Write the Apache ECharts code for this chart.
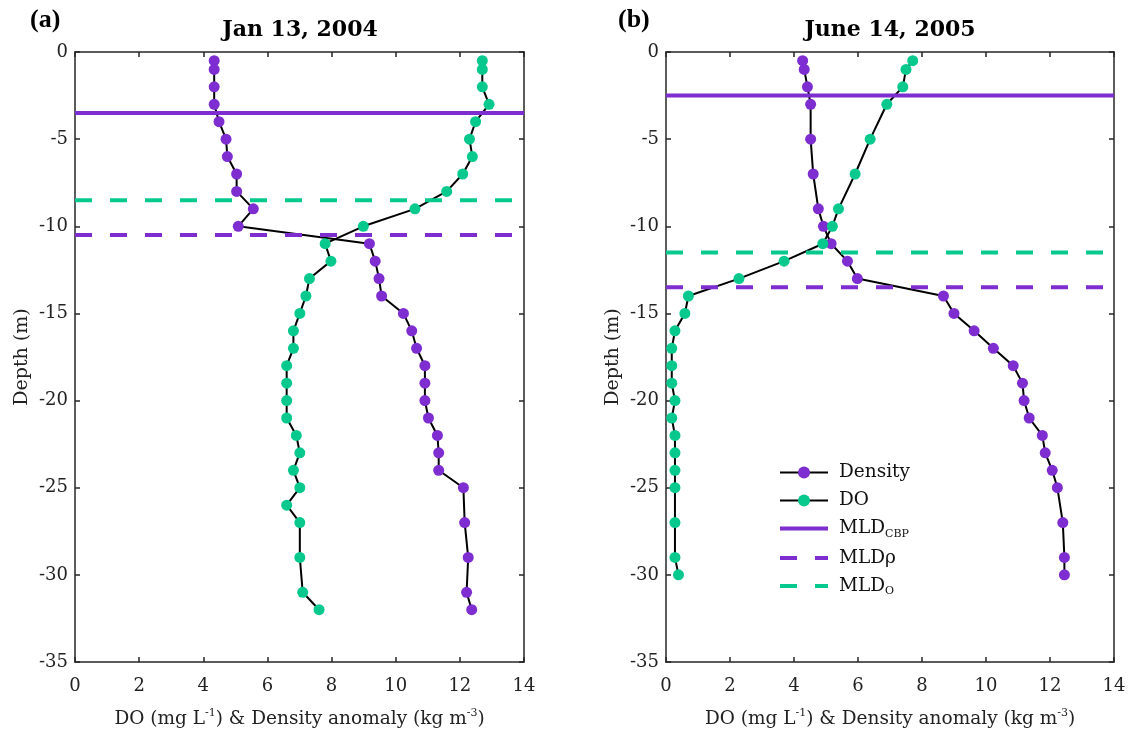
<!DOCTYPE html>
<html>
<head>
<meta charset="utf-8">
<script src="https://cdn.jsdelivr.net/npm/echarts@6/dist/echarts.min.js"></script>
<style>
  html, body { margin: 0; padding: 0; background: #fff; }
  #container { width: 1137px; height: 737px; }
</style>
</head>
<body>
<div id="container"></div>
<script>
// panel (a) Jan 13, 2004
var densDepthA = [-0.5, -1, -2, -3, -4, -5, -6, -7, -8, -9, -10, -11, -12, -13, -14, -15, -16, -17, -18, -19, -20, -21, -22, -23, -24, -25, -27, -29, -31, -32]
var densA = [4.34, 4.34, 4.34, 4.34, 4.49, 4.71, 4.75, 5.04, 5.04, 5.56, 5.09, 9.18, 9.36, 9.48, 9.56, 10.24, 10.5, 10.65, 10.91, 10.91, 10.91, 11.02, 11.3, 11.34, 11.34, 12.11, 12.15, 12.26, 12.21, 12.37]
var doDepthA = [-0.5, -1, -2, -3, -4, -5, -6, -7, -8, -9, -10, -11, -12, -13, -14, -15, -16, -17, -18, -19, -20, -21, -22, -23, -24, -25, -26, -27, -29, -31, -32]
var doA = [12.7, 12.7, 12.7, 12.91, 12.49, 12.3, 12.39, 12.09, 11.59, 10.6, 8.99, 7.8, 7.98, 7.31, 7.2, 7.01, 6.81, 6.81, 6.6, 6.6, 6.6, 6.6, 6.9, 7.01, 6.81, 7.01, 6.6, 7.01, 7.01, 7.1, 7.61]

// panel (b) June 14, 2005
var depthB = [-0.5, -1, -2, -3, -5, -7, -9, -10, -11, -12, -13, -14, -15, -16, -17, -18, -19, -20, -21, -22, -23, -24, -25, -27, -29, -30]
var densB = [4.27, 4.32, 4.42, 4.52, 4.52, 4.6, 4.76, 4.92, 5.16, 5.67, 5.98, 8.67, 9.0, 9.63, 10.23, 10.85, 11.14, 11.19, 11.35, 11.76, 11.85, 12.07, 12.23, 12.4, 12.45, 12.45]
var doB = [7.71, 7.5, 7.4, 6.9, 6.38, 5.91, 5.39, 5.2, 4.9, 3.69, 2.28, 0.7, 0.59, 0.28, 0.18, 0.18, 0.18, 0.28, 0.18, 0.28, 0.28, 0.28, 0.28, 0.28, 0.28, 0.39]

// mixed layer depths [panel a, panel b]
var mldCbp = [-3.5, -2.5]
var mldRho = [-10.5, -13.5]
var mldO = [-8.5, -11.5]

var titles = ['Jan 13, 2004', 'June 14, 2005']
var panelTags = ['(a)', '(b)']
var xTicks = [0, 14, 2]
var yTicks = [-35, 0, 5]

var purple = '#7D2DD0'
var green = '#07C88D'
var axisColor = '#262626'
var font = 'DejaVu Serif'

function pairs(xs, ys) {
    return xs.map(function (x, i) { return [x, ys[i]] })
}

var grids = [
    { left: 75, top: 52, width: 449, height: 610 },
    { left: 666, top: 52, width: 448, height: 610 }
]

var xAxes = []
var yAxes = []
var series = []

function frameAxis(extra) {
    var ax = {
        type: 'value',
        axisLine: { onZero: false, lineStyle: { color: axisColor, width: 1.5 } },
        axisTick: { inside: true, length: 5, lineStyle: { color: axisColor, width: 1.5 } },
        axisLabel: { show: false },
        splitLine: { show: false }
    }
    for (var k in extra) ax[k] = extra[k]
    return ax
}

for (var p = 0; p < 2; p++) {
    xAxes.push(frameAxis({
        gridIndex: p, min: xTicks[0], max: xTicks[1], interval: xTicks[2], position: 'bottom',
        axisLabel: { color: '#222', fontFamily: font, fontSize: 18, margin: 15 },
        name: '{n|DO (mg L}{sup|-1}{n|) & Density anomaly (kg m}{sup|-3}{n|)}',
        nameLocation: 'middle', nameGap: 46, nameMoveOverlap: false,
        nameTextStyle: {
            rich: {
                n: { fontFamily: font, fontSize: 18.5, color: '#222', lineHeight: 22 },
                sup: { fontFamily: font, fontSize: 11, color: '#222', verticalAlign: 'top', lineHeight: 12 }
            }
        }
    }))
    xAxes.push(frameAxis({ gridIndex: p, min: xTicks[0], max: xTicks[1], interval: xTicks[2], position: 'top' }))
    yAxes.push(frameAxis({
        gridIndex: p, min: yTicks[0], max: yTicks[1], interval: yTicks[2], position: 'left',
        axisLabel: { color: '#222', fontFamily: font, fontSize: 18, margin: 7 },
        name: 'Depth (m)', nameLocation: 'middle', nameGap: 43, nameMoveOverlap: false,
        nameTextStyle: { fontFamily: font, fontSize: 19, color: '#222' }
    }))
    yAxes.push(frameAxis({ gridIndex: p, min: yTicks[0], max: yTicks[1], interval: yTicks[2], position: 'right' }))
}

function profile(name, data, color, p) {
    return {
        name: name, type: 'line', xAxisIndex: p * 2, yAxisIndex: p * 2,
        data: data, symbol: 'circle', symbolSize: 11, showAllSymbol: true,
        itemStyle: { color: color },
        lineStyle: { color: '#000', width: 2 },
        emphasis: { disabled: true }
    }
}

function mldLine(name, depth, color, dashed, p) {
    return {
        name: name, type: 'line', xAxisIndex: p * 2, yAxisIndex: p * 2,
        data: [[xTicks[0], depth], [xTicks[1], depth]], symbol: 'none',
        itemStyle: { color: color, opacity: 0 },
        lineStyle: { color: color, width: 4, type: dashed ? [17, 18] : 'solid' },
        emphasis: { disabled: true }
    }
}

var profiles = [
    [pairs(densA, densDepthA), pairs(doA, doDepthA)],
    [pairs(densB, depthB), pairs(doB, depthB)]
]

for (var p = 0; p < 2; p++) {
    series.push(profile('Density', profiles[p][0], purple, p))
    series.push(profile('DO', profiles[p][1], green, p))
    series.push(mldLine('MLD_CBP', mldCbp[p], purple, false, p))
    series.push(mldLine('MLDρ', mldRho[p], purple, true, p))
    series.push(mldLine('MLD_O', mldO[p], green, true, p))
}

var legendLabels = {
    'Density': '{n|Density}',
    'DO': '{n|DO}',
    'MLD_CBP': '{n|MLD}{sub|CBP}',
    'MLDρ': '{n|MLDρ}',
    'MLD_O': '{n|MLD}{sub|O}'
}

var myChart = echarts.init(document.getElementById('container'), null, { renderer: 'canvas' })
myChart.setOption({
    animation: false,
    backgroundColor: '#fff',
    grid: grids,
    xAxis: xAxes,
    yAxis: yAxes,
    legend: {
        orient: 'vertical', left: 773, top: 458,
        itemWidth: 48, itemHeight: 15, itemGap: 9,
        data: ['Density', 'DO', 'MLD_CBP', 'MLDρ', 'MLD_O'],
        selectedMode: false,
        lineStyle: { width: 'inherit' },
        formatter: function (name) { return legendLabels[name] },
        textStyle: {
            padding: [0, 0, 0, 6],
            rich: {
                n: { fontFamily: font, fontSize: 18.5, color: '#111', lineHeight: 22 },
                sub: { fontFamily: font, fontSize: 11, color: '#111', verticalAlign: 'bottom', lineHeight: 12 }
            }
        }
    },
    graphic: [
        { type: 'text', left: 30, top: 7, style: { text: panelTags[0], font: 'bold 26px "Liberation Serif"', fill: '#000' } },
        { type: 'text', left: 618, top: 7, style: { text: panelTags[1], font: 'bold 26px "Liberation Serif"', fill: '#000' } },
        { type: 'text', x: 300, y: 30, style: { text: titles[0], font: 'bold 22px "DejaVu Serif"', fill: '#000', align: 'center', verticalAlign: 'middle' } },
        { type: 'text', x: 890, y: 30, style: { text: titles[1], font: 'bold 22px "DejaVu Serif"', fill: '#000', align: 'center', verticalAlign: 'middle' } }
    ],
    series: series
})
</script>
</body>
</html>
